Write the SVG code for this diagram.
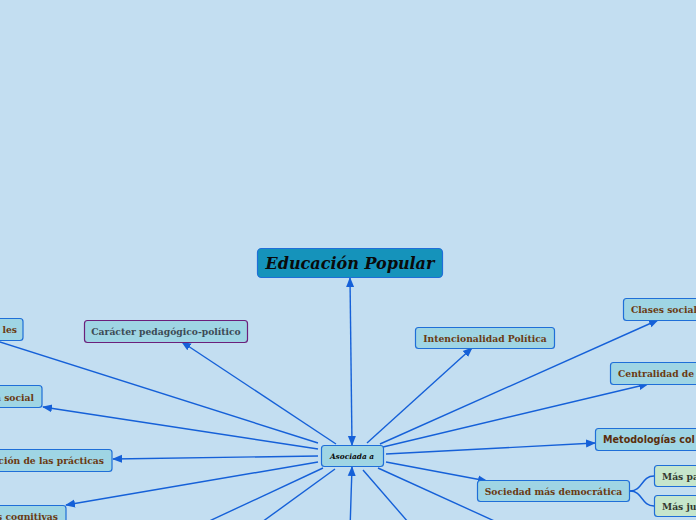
<svg xmlns="http://www.w3.org/2000/svg" width="696" height="520" viewBox="0 0 696 520">
<defs>
<marker id="arr" markerUnits="userSpaceOnUse" markerWidth="10" markerHeight="10" viewBox="0 0 10 10" refX="9" refY="5" orient="auto-start-reverse">
<path d="M0,1 L10,5 L0,9 Z" fill="#1560d8"/>
</marker>
<style>
.bg{fill:#c3def1}
.n rect{fill:#9fd5e4;stroke:#1f6fd8;stroke-width:1.2}
.t{font-family:"DejaVu Serif","Liberation Serif",serif;font-weight:bold;font-size:9.2px;fill:#6a3a12}
.s{font-family:"DejaVu Sans","Liberation Sans",sans-serif;font-weight:bold;font-size:9.6px;fill:#5a2e0c}
.g rect{fill:#c6e6cc}
.gt{fill:#333a30}
.c line,.c path{stroke:#1560d8;stroke-width:1.4;fill:none}
</style>
</defs>
<rect class="bg" x="0" y="0" width="696" height="520"/>
<g class="c" id="connectors">
<line x1="352" y1="445" x2="350" y2="278" marker-start="url(#arr)" marker-end="url(#arr)"/>
<line x1="318" y1="443" x2="-6" y2="340"/>
<line x1="318" y1="449" x2="43" y2="407" marker-end="url(#arr)"/>
<line x1="318" y1="456" x2="113" y2="459" marker-end="url(#arr)"/>
<line x1="318" y1="462" x2="66" y2="505" marker-end="url(#arr)"/>
<line x1="323" y1="468" x2="190" y2="530"/>
<line x1="335" y1="469" x2="251" y2="530"/>
<line x1="350" y1="530" x2="352" y2="467" marker-end="url(#arr)"/>
<line x1="363" y1="470" x2="415" y2="530"/>
<line x1="378" y1="468" x2="512" y2="529"/>
<line x1="336" y1="444" x2="182" y2="342" marker-end="url(#arr)"/>
<line x1="367" y1="443" x2="472" y2="348" marker-end="url(#arr)"/>
<line x1="380" y1="444" x2="658" y2="320" marker-end="url(#arr)"/>
<line x1="383" y1="447" x2="648" y2="384" marker-end="url(#arr)"/>
<line x1="386" y1="454" x2="595" y2="443" marker-end="url(#arr)"/>
<line x1="386" y1="462" x2="487" y2="481" marker-end="url(#arr)"/>
<path d="M630,491 C643,491 641,476 654,476"/>
<path d="M630,491 C643,491 641,506 654,506"/>
</g>
<g id="title">
<rect x="257.5" y="248.5" width="185" height="29" rx="4" fill="#1593bb" stroke="#1f6fd8" stroke-width="1.2"/>
<text x="350" y="269" text-anchor="middle" font-family="DejaVu Serif, Liberation Serif, serif" font-weight="bold" font-style="italic" font-size="16" fill="#0a0a0a">Educación Popular</text>
</g>
<g id="center" class="n">
<rect x="321.5" y="445.5" width="62" height="21" rx="3"/>
<text x="352" y="458.5" text-anchor="middle" font-family="DejaVu Serif, Liberation Serif, serif" font-weight="bold" font-style="italic" font-size="7.4" fill="#0a0a0a">Asociada a</text>
</g>
<g id="n-caracter" class="n">
<rect x="84.5" y="320.5" width="163" height="22" rx="3" style="stroke:#6b1f7b"/>
<text class="t" x="166" y="335" text-anchor="middle" style="fill:#3c4a55">Carácter pedagógico-político</text>
</g>
<g id="n-intencionalidad" class="n">
<rect x="415.5" y="327.5" width="139" height="21" rx="3"/>
<text class="t" x="485" y="341.5" text-anchor="middle">Intencionalidad Política</text>
</g>
<g id="n-clases" class="n">
<rect x="623.5" y="298.5" width="90" height="22" rx="3"/>
<text class="t" x="631" y="313">Clases social</text>
</g>
<g id="n-centralidad" class="n">
<rect x="610.5" y="362.5" width="100" height="22" rx="3"/>
<text class="t" x="618" y="377">Centralidad de</text>
</g>
<g id="n-metodologias" class="n">
<rect x="595.5" y="428.5" width="120" height="22" rx="3"/>
<text class="s" x="603" y="443">Metodologías col</text>
</g>
<g id="n-sociedad" class="n">
<rect x="477.5" y="480.5" width="152" height="21" rx="3"/>
<text class="t" x="553.5" y="495" text-anchor="middle">Sociedad más democrática</text>
</g>
<g id="n-maspa" class="n g">
<rect x="654.5" y="465.5" width="60" height="21" rx="3"/>
<text class="t gt" x="662" y="480">Más pa</text>
</g>
<g id="n-masjus" class="n g">
<rect x="654.5" y="495.5" width="60" height="21" rx="3"/>
<text class="t gt" x="662" y="510">Más jus</text>
</g>
<g id="n-les" class="n">
<rect x="-50" y="318.5" width="73" height="22" rx="3"/>
<text class="t" x="17" y="333" text-anchor="end">les</text>
</g>
<g id="n-social" class="n">
<rect x="-50" y="385.5" width="92" height="22" rx="3"/>
<text class="t" x="34" y="400.5" text-anchor="end">a social</text>
</g>
<g id="n-practicas" class="n">
<rect x="-50" y="449.5" width="162" height="22" rx="3"/>
<text class="t" x="104" y="464" text-anchor="end">ación de las prácticas</text>
</g>
<g id="n-cognitivas" class="n">
<rect x="-50" y="505.5" width="116" height="22" rx="3"/>
<text class="t" x="58" y="520" text-anchor="end">s cognitivas</text>
</g>
</svg>
